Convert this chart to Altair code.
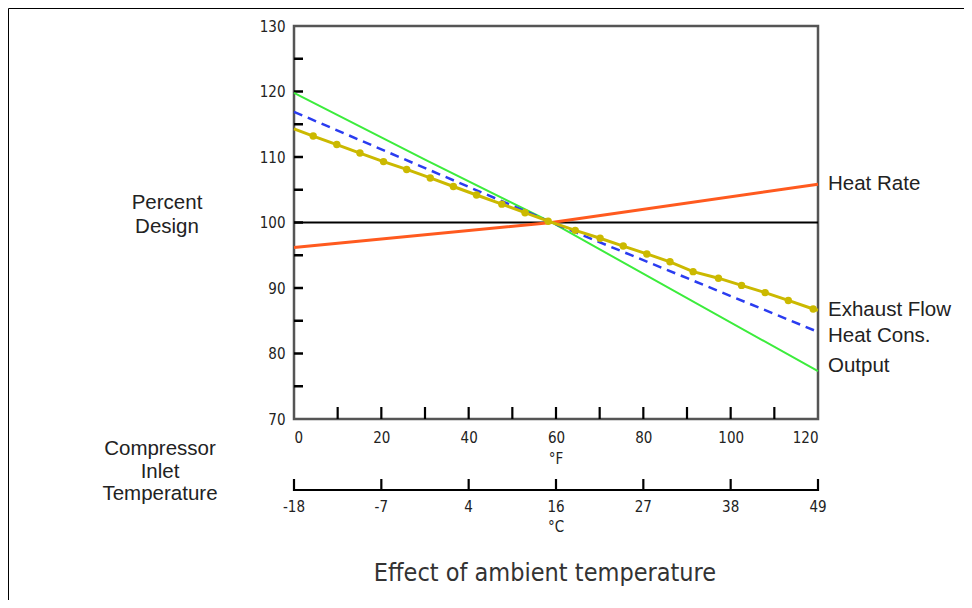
import altair as alt
import pandas as pd

# ---------------- data ----------------
f_tick_labels = [0, 20, 40, 60, 80, 100, 120]
c_tick_labels = ["-18", "-7", "4", "16", "27", "38", "49"]
y_tick_labels = [70, 80, 90, 100, 110, 120, 130]
y_inner_ticks = [75, 80, 85, 90, 95, 100, 105, 110, 115, 120, 125]
x_inner_ticks = [10, 20, 30, 40, 50, 60, 70, 80, 90, 100, 110]

output_x = [0, 30, 59, 120]
output_y = [119.8, 109.6, 100.0, 77.3]

heatcons_x = [0, 59, 120]
heatcons_y = [116.9, 100.0, 83.3]

heatrate_x = [0, 59, 120]
heatrate_y = [96.2, 100.0, 105.85]

exhaust_x = [0, 4.4, 9.8, 15.1, 20.5, 25.8, 31.2, 36.5, 41.8, 47.6, 52.9, 58.2,
             64.4, 70.1, 75.4, 80.8, 86.1, 91.4, 97.2, 102.5, 107.9, 113.2, 118.9, 120]
exhaust_y = [114.3, 113.2, 111.9, 110.6, 109.3, 108.1, 106.8, 105.5, 104.2, 102.8, 101.5, 100.2,
             98.8, 97.6, 96.4, 95.2, 94.0, 92.5, 91.5, 90.4, 89.3, 88.1, 86.8, 86.6]
exhaust_dots = exhaust_x[1:-1]
exhaust_dots_y = exhaust_y[1:-1]

series_names = ["Heat Rate", "Exhaust Flow", "Heat Cons.", "Output"]
series_label_y = [105.9, 86.6, 82.7, 78.1]

design_level = [100]

title_text = "Effect of ambient temperature"

# ---------------- styling ----------------
NARROW = "DejaVu Sans Condensed, Liberation Sans Narrow, sans-serif"
SANS = "Liberation Sans, Arial, sans-serif"
W, H = 524, 393

xs = alt.Scale(domain=[0, 120], nice=False, zero=False)
ys = alt.Scale(domain=[70, 130], nice=False, zero=False)

X_AXIS = alt.Axis(values=f_tick_labels, ticks=False, domain=False, grid=False,
                  title=None, labelPadding=11, labelFont=NARROW,
                  labelFontSize=15, labelColor="#222")
Y_AXIS = alt.Axis(values=y_tick_labels, ticks=False, domain=False, grid=False,
                  title=None, labelPadding=9, labelFont=NARROW,
                  labelFontSize=15, labelColor="#222")


def X(field):
    return alt.X(field, scale=xs, axis=X_AXIS, title=None)


def Y(field):
    return alt.Y(field, scale=ys, axis=Y_AXIS, title=None)


def line_df(xv, yv):
    return pd.DataFrame({"x": xv, "y": yv})


y_ticks_layer = alt.Chart(pd.DataFrame({"v": y_inner_ticks})).mark_rule(
    color="black", strokeWidth=2.5).encode(
    y=Y("v:Q"), x=alt.value(0), x2=alt.value(9))

x_ticks_layer = alt.Chart(pd.DataFrame({"v": x_inner_ticks})).mark_rule(
    color="black", strokeWidth=2.2).encode(
    x=X("v:Q"), y=alt.value(H), y2=alt.value(H - 12))

design_layer = alt.Chart(pd.DataFrame({"v": design_level})).mark_rule(
    color="black", strokeWidth=2).encode(
    y=Y("v:Q"), x=alt.value(0), x2=alt.value(W))


def series_line(xv, yv, color, width, dash=None):
    kw = dict(color=color, strokeWidth=width)
    if dash is not None:
        kw["strokeDash"] = dash
    return alt.Chart(line_df(xv, yv)).mark_line(**kw).encode(x=X("x:Q"), y=Y("y:Q"))


heatrate_layer = series_line(heatrate_x, heatrate_y, "#ff5a1f", 3)
output_layer = series_line(output_x, output_y, "#3cec3c", 2)
heatcons_layer = series_line(heatcons_x, heatcons_y, "#2a3cf0", 2.5, [9, 6])
exhaust_layer = series_line(exhaust_x, exhaust_y, "#cbb900", 3)
exhaust_dot_layer = alt.Chart(line_df(exhaust_dots, exhaust_dots_y)).mark_circle(
    color="#cbb900", opacity=1, size=55).encode(x=X("x:Q"), y=Y("y:Q"))

labels_layer = alt.Chart(pd.DataFrame({"name": series_names, "y": series_label_y, "x": [120] * 4})).mark_text(
    align="left", baseline="middle", dx=10, font=SANS, fontSize=20.5, color="#222").encode(
    x=X("x:Q"), y=Y("y:Q"), text="name:N")

# Fahrenheit unit
f_unit = alt.Chart(pd.DataFrame({"x": [60], "t": ["°F"]})).mark_text(
    font=NARROW, fontSize=15, color="#222", baseline="middle").encode(
    x=X("x:Q"), y=alt.value(433), text="t:N")

# Celsius axis
c_line = alt.Chart(pd.DataFrame({"x": [0], "x2": [120]})).mark_rule(color="black", strokeWidth=2).encode(
    x=X("x:Q"), x2="x2:Q", y=alt.value(464))
c_ticks = alt.Chart(pd.DataFrame({"x": f_tick_labels})).mark_rule(color="black", strokeWidth=2.2).encode(
    x=X("x:Q"), y=alt.value(465), y2=alt.value(453))
c_labels = alt.Chart(pd.DataFrame({"x": f_tick_labels, "t": c_tick_labels})).mark_text(
    font=NARROW, fontSize=15, color="#222", baseline="middle").encode(
    x=X("x:Q"), y=alt.value(481), text="t:N")
c_unit = alt.Chart(pd.DataFrame({"x": [60], "t": ["°C"]})).mark_text(
    font=NARROW, fontSize=15, color="#222", baseline="middle").encode(
    x=X("x:Q"), y=alt.value(501), text="t:N")

# left side captions
pd_text = alt.Chart(pd.DataFrame({"t": ["Percent\nDesign"]})).mark_text(
    font=SANS, fontSize=20.5, color="#222", align="center", baseline="middle", lineBreak="\n",
    lineHeight=24).encode(x=alt.value(-127), y=alt.value(177), text="t:N")
cit_text = alt.Chart(pd.DataFrame({"t": ["Compressor\nInlet\nTemperature"]})).mark_text(
    font=SANS, fontSize=20.5, color="#222", align="center", baseline="middle", lineBreak="\n",
    lineHeight=22.5).encode(x=alt.value(-134), y=alt.value(423), text="t:N")

title_layer = alt.Chart(pd.DataFrame({"t": [title_text]})).mark_text(
    font=NARROW, fontSize=25, color="#333", align="center", baseline="middle").encode(
    x=alt.value(251), y=alt.value(547), text="t:N")

frame = alt.Chart(pd.DataFrame({"a": [0]})).mark_rect(
    fill=None, stroke="black", strokeWidth=1).encode(
    x=alt.value(-285.5), y=alt.value(-17.5), x2=alt.value(720), y2=alt.value(620))

chart = alt.layer(
    frame, y_ticks_layer, x_ticks_layer, design_layer,
    heatrate_layer, output_layer, heatcons_layer, exhaust_layer, exhaust_dot_layer,
    labels_layer, f_unit, c_line, c_ticks, c_labels, c_unit, pd_text, cit_text, title_layer,
).properties(
    width=W, height=H,
    background="white",
    autosize=alt.AutoSizeParams(type="none"),
    padding={"left": 286, "top": 18, "right": 146, "bottom": 181},
).configure_view(
    stroke="#555", strokeWidth=2.5
)

chart.save("out.html", embed_options={"renderer": "svg", "actions": False})
